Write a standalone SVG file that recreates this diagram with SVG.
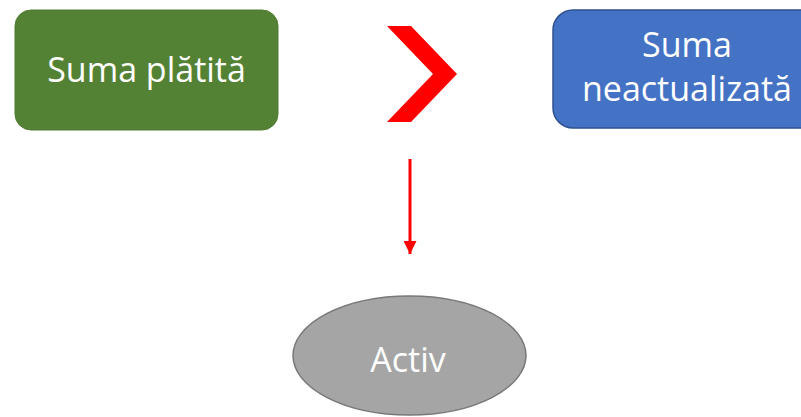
<svg xmlns="http://www.w3.org/2000/svg" width="801" height="417" viewBox="0 0 801 417">
  <style>
    .lbl { font-family: "Open Sans", "Liberation Sans", sans-serif; font-size: 34px; fill: #ffffff; text-anchor: middle; }
  </style>
  <defs>
    <marker id="ah" markerWidth="13" markerHeight="13" refX="13" refY="6.5" orient="auto" markerUnits="userSpaceOnUse">
      <path d="M0,0 L13,6.5 L0,13 Z" fill="#ff0000"/>
    </marker>
  </defs>
  <rect width="801" height="417" fill="#ffffff"/>
  <g id="paid">
    <rect x="15" y="10" width="263" height="120" rx="16" fill="#548235" stroke="#4e7a31" stroke-width="1"/>
    <text class="lbl" x="146.5" y="82">Suma plătită</text>
  </g>
  <g id="chevron">
    <polygon points="387,26 411,26 457,74 411,122 387,122 433,74" fill="#ff0000"/>
  </g>
  <g id="unadjusted">
    <rect x="553" y="10" width="270" height="118" rx="20" fill="#4472c4" stroke="#2f528f" stroke-width="1.5"/>
    <text class="lbl" x="687" y="57">Suma</text>
    <text class="lbl" x="687" y="101">neactualizată</text>
  </g>
  <g id="asset">
    <ellipse cx="409.5" cy="355.5" rx="116.5" ry="59.5" fill="#a5a5a5" stroke="#787878" stroke-width="1.5"/>
    <text class="lbl" x="408" y="372">Activ</text>
  </g>
  <g id="connectors">
    <line x1="410" y1="159" x2="410" y2="254" stroke="#ff0000" stroke-width="3" marker-end="url(#ah)"/>
  </g>
</svg>
